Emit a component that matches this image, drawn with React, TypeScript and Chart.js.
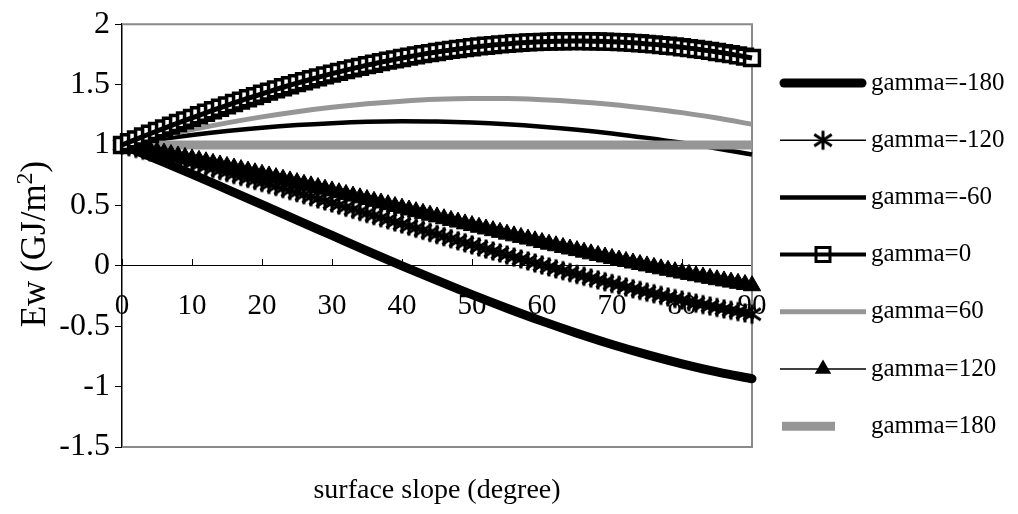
import React, { useEffect, useRef } from 'react';
import { Chart, registerables } from 'chart.js';

Chart.register(...registerables);

const SERIF = '"Liberation Serif", "Times New Roman", Times, serif';
const BLACK = '#000000';
const GREY = '#969696';
const FRAME = '#8a8a8a';

// surface slope (degrees), one-degree steps for the marker series
const slopeDeg = [
  0, 1, 2, 3, 4, 5, 6, 7, 8, 9,
  10, 11, 12, 13, 14, 15, 16, 17, 18, 19,
  20, 21, 22, 23, 24, 25, 26, 27, 28, 29,
  30, 31, 32, 33, 34, 35, 36, 37, 38, 39,
  40, 41, 42, 43, 44, 45, 46, 47, 48, 49,
  50, 51, 52, 53, 54, 55, 56, 57, 58, 59,
  60, 61, 62, 63, 64, 65, 66, 67, 68, 69,
  70, 71, 72, 73, 74, 75, 76, 77, 78, 79,
  80, 81, 82, 83, 84, 85, 86, 87, 88, 89,
  90,
];

// surface slope (degrees), five-degree steps for the plain line series
const slopeDeg5 = [0, 5, 10, 15, 20, 25, 30, 35, 40, 45, 50, 55, 60, 65, 70, 75, 80, 85, 90];

// Ew (GJ/m2) per surface azimuth gamma
const ewGammaM180 = [
  1.0, 0.881, 0.759, 0.633, 0.506, 0.378, 0.251, 0.124, 0.0, -0.121,
  -0.239, -0.351, -0.458, -0.558, -0.651, -0.735, -0.811, -0.878, -0.935,
];

const ewGammaM120 = [
  1.0, 0.986, 0.972, 0.957, 0.943, 0.928, 0.913, 0.898, 0.883, 0.868,
  0.852, 0.836, 0.821, 0.805, 0.789, 0.773, 0.756, 0.74, 0.724, 0.707,
  0.69, 0.674, 0.657, 0.64, 0.623, 0.606, 0.589, 0.572, 0.554, 0.537,
  0.52, 0.503, 0.485, 0.468, 0.45, 0.433, 0.416, 0.398, 0.381, 0.363,
  0.346, 0.328, 0.311, 0.294, 0.276, 0.259, 0.242, 0.224, 0.207, 0.19,
  0.173, 0.156, 0.139, 0.122, 0.106, 0.089, 0.072, 0.056, 0.04, 0.023,
  0.007, -0.009, -0.025, -0.04, -0.056, -0.072, -0.087, -0.102, -0.117, -0.132,
  -0.147, -0.161, -0.176, -0.19, -0.204, -0.218, -0.231, -0.245, -0.258, -0.271,
  -0.284, -0.297, -0.309, -0.321, -0.333, -0.345, -0.357, -0.368, -0.379, -0.39,
  -0.401,
];

const ewGammaM60 = [
  1.0, 1.043, 1.082, 1.115, 1.143, 1.165, 1.181, 1.192, 1.196, 1.194,
  1.186, 1.172, 1.152, 1.127, 1.096, 1.059, 1.018, 0.971, 0.921,
];

const ewGamma0 = [
  1.0, 1.024, 1.047, 1.07, 1.093, 1.116, 1.138, 1.16, 1.182, 1.204,
  1.225, 1.246, 1.267, 1.288, 1.308, 1.328, 1.348, 1.367, 1.387, 1.405,
  1.424, 1.442, 1.46, 1.478, 1.495, 1.512, 1.528, 1.544, 1.56, 1.576,
  1.591, 1.605, 1.62, 1.634, 1.647, 1.661, 1.673, 1.686, 1.698, 1.709,
  1.72, 1.731, 1.742, 1.752, 1.761, 1.77, 1.779, 1.787, 1.795, 1.802,
  1.809, 1.816, 1.822, 1.827, 1.833, 1.837, 1.842, 1.846, 1.849, 1.852,
  1.854, 1.856, 1.858, 1.859, 1.86, 1.86, 1.86, 1.859, 1.858, 1.856,
  1.854, 1.852, 1.849, 1.846, 1.842, 1.837, 1.833, 1.827, 1.822, 1.816,
  1.809, 1.802, 1.795, 1.787, 1.779, 1.77, 1.761, 1.752, 1.742, 1.731,
  1.72,
];

const ewGamma60 = [
  1.0, 1.066, 1.127, 1.183, 1.233, 1.276, 1.312, 1.341, 1.363, 1.378,
  1.384, 1.384, 1.375, 1.359, 1.336, 1.305, 1.268, 1.223, 1.172,
];

const ewGamma120 = [
  1.0, 0.989, 0.978, 0.967, 0.956, 0.945, 0.933, 0.921, 0.909, 0.897,
  0.885, 0.873, 0.861, 0.848, 0.835, 0.823, 0.81, 0.797, 0.784, 0.77,
  0.757, 0.744, 0.73, 0.717, 0.703, 0.689, 0.675, 0.662, 0.648, 0.634,
  0.62, 0.605, 0.591, 0.577, 0.563, 0.549, 0.534, 0.52, 0.506, 0.491,
  0.477, 0.462, 0.448, 0.434, 0.419, 0.405, 0.39, 0.376, 0.362, 0.347,
  0.333, 0.319, 0.305, 0.291, 0.277, 0.262, 0.248, 0.235, 0.221, 0.207,
  0.193, 0.179, 0.166, 0.152, 0.139, 0.126, 0.113, 0.099, 0.086, 0.073,
  0.061, 0.048, 0.036, 0.023, 0.011, -0.001, -0.013, -0.025, -0.037, -0.049,
  -0.06, -0.071, -0.082, -0.093, -0.104, -0.115, -0.125, -0.135, -0.145, -0.155,
  -0.165,
];

const ewGamma180 = [
  1, 1, 1, 1, 1, 1, 1, 1, 1, 1,
  1, 1, 1, 1, 1, 1, 1, 1, 1,
];

const seriesNames = [
  'gamma=-180', 'gamma=-120', 'gamma=-60', 'gamma=0', 'gamma=60', 'gamma=120', 'gamma=180',
];

const xTitle = 'surface slope (degree)';
const yTitleMain = 'Ew (GJ/m';
const yTitleSup = '2';
const yTitleEnd = ')';

function toPoints(xs: number[], ys: number[]) {
  return xs.map((x, i) => ({ x, y: ys[i] }));
}

// asterisk marker: vertical bar plus a wide X
function makeAsterisk(size: number, lineWidth: number): HTMLCanvasElement {
  const c = document.createElement('canvas');
  c.width = size;
  c.height = size;
  const g = c.getContext('2d') as CanvasRenderingContext2D;
  const m = size / 2;
  const r = m - 1.5;
  g.strokeStyle = BLACK;
  g.lineWidth = lineWidth;
  g.beginPath();
  g.moveTo(m, m - r);
  g.lineTo(m, m + r);
  const dx = r * 0.92;
  const dy = r * 0.6;
  g.moveTo(m - dx, m - dy);
  g.lineTo(m + dx, m + dy);
  g.moveTo(m - dx, m + dy);
  g.lineTo(m + dx, m - dy);
  g.stroke();
  return c;
}

export default function App() {
  const canvasRef = useRef<HTMLCanvasElement | null>(null);

  useEffect(() => {
    document.body.style.margin = '0';
    const canvas = canvasRef.current;
    if (!canvas) return;

    Chart.defaults.font.family = SERIF;
    Chart.defaults.color = BLACK;

    const star = makeAsterisk(22, 3);

    // grey frame on the top, right and bottom of the plot area
    const plotFrame = {
      id: 'plotFrame',
      beforeDatasetsDraw(chart: any) {
        const { ctx, chartArea } = chart;
        const { left, top, right, bottom } = chartArea;
        ctx.save();
        ctx.strokeStyle = FRAME;
        ctx.lineWidth = 2;
        ctx.beginPath();
        ctx.moveTo(left, top);
        ctx.lineTo(right, top);
        ctx.lineTo(right, bottom);
        ctx.lineTo(left, bottom);
        ctx.stroke();
        ctx.restore();
      },
    };

    // vertical axis title with a raised exponent
    const yAxisTitle = {
      id: 'yAxisTitle',
      afterDraw(chart: any) {
        const ctx: CanvasRenderingContext2D = chart.ctx;
        const mainFont = `35px ${SERIF}`;
        const supFont = `24px ${SERIF}`;
        ctx.save();
        ctx.font = mainFont;
        const w1 = ctx.measureText(yTitleMain).width;
        const w3 = ctx.measureText(yTitleEnd).width;
        ctx.font = supFont;
        const w2 = ctx.measureText(yTitleSup).width;
        const total = w1 + w2 + w3;
        ctx.translate(33, 244);
        ctx.rotate(-Math.PI / 2);
        ctx.fillStyle = BLACK;
        ctx.textAlign = 'left';
        ctx.textBaseline = 'alphabetic';
        const base = 12;
        let x = -total / 2;
        ctx.font = mainFont;
        ctx.fillText(yTitleMain, x, base);
        x += w1;
        ctx.font = supFont;
        ctx.fillText(yTitleSup, x, base - 13);
        x += w2;
        ctx.font = mainFont;
        ctx.fillText(yTitleEnd, x, base);
        ctx.restore();
      },
    };

    // connecting line is stroked over the markers
    const lineOverMarkers = {
      id: 'lineOverMarkers',
      afterDatasetDraw(chart: any, args: any) {
        const ds = chart.data.datasets[args.index];
        if (ds.pointRadius > 0 && args.meta.dataset) {
          args.meta.dataset.draw(chart.ctx, chart.chartArea);
        }
      },
    };

    // legend on the right: sample line, marker, label
    const sideLegend = {
      id: 'sideLegend',
      afterDraw(chart: any) {
        const ctx: CanvasRenderingContext2D = chart.ctx;
        const x0 = 780;
        const x1 = 866;
        const cx = 823;
        const textX = 871;
        ctx.save();
        seriesNames.forEach((name, i) => {
          const y = 83 + i * 57.2;
          ctx.lineCap = 'butt';
          ctx.strokeStyle = BLACK;
          if (i === 0) {
            ctx.lineWidth = 9;
            ctx.lineCap = 'round';
            ctx.beginPath(); ctx.moveTo(x0 + 4, y); ctx.lineTo(x1 - 4, y); ctx.stroke();
          } else if (i === 1) {
            ctx.lineWidth = 1.5;
            ctx.beginPath(); ctx.moveTo(x0, y); ctx.lineTo(x1, y); ctx.stroke();
            ctx.drawImage(star, cx - 11, y - 11);
          } else if (i === 2) {
            ctx.lineWidth = 4.5;
            ctx.beginPath(); ctx.moveTo(x0, y); ctx.lineTo(x1, y); ctx.stroke();
          } else if (i === 3) {
            ctx.fillStyle = '#ffffff';
            ctx.lineWidth = 3;
            ctx.beginPath(); ctx.rect(cx - 7, y - 7, 14, 14); ctx.fill(); ctx.stroke();
            ctx.lineWidth = 4;
            ctx.beginPath(); ctx.moveTo(x0, y); ctx.lineTo(x1, y); ctx.stroke();
          } else if (i === 4) {
            ctx.strokeStyle = GREY;
            ctx.lineWidth = 5;
            ctx.beginPath(); ctx.moveTo(x0, y); ctx.lineTo(x1, y); ctx.stroke();
          } else if (i === 5) {
            ctx.lineWidth = 1.5;
            ctx.beginPath(); ctx.moveTo(x0, y); ctx.lineTo(x1, y); ctx.stroke();
            const r = 9.5;
            ctx.fillStyle = BLACK;
            ctx.beginPath();
            ctx.moveTo(cx, y - r);
            ctx.lineTo(cx + 0.866 * r, y + 0.5 * r);
            ctx.lineTo(cx - 0.866 * r, y + 0.5 * r);
            ctx.closePath();
            ctx.fill();
          } else {
            ctx.strokeStyle = GREY;
            ctx.lineWidth = 9;
            ctx.beginPath(); ctx.moveTo(782, y); ctx.lineTo(835, y); ctx.stroke();
          }
          ctx.fillStyle = BLACK;
          ctx.font = `25px ${SERIF}`;
          ctx.textAlign = 'left';
          ctx.textBaseline = 'middle';
          ctx.fillText(name, textX, y);
        });
        ctx.restore();
      },
    };

    const chart = new Chart(canvas, {
      type: 'line',
      data: {
        datasets: [
          {
            label: seriesNames[0],
            data: toPoints(slopeDeg5, ewGammaM180),
            borderColor: BLACK,
            borderWidth: 9,
            borderCapStyle: 'round',
            borderJoinStyle: 'round',
            pointRadius: 0,
            cubicInterpolationMode: 'monotone',
            clip: false,
            order: 7,
          },
          {
            label: seriesNames[1],
            data: toPoints(slopeDeg, ewGammaM120),
            borderColor: BLACK,
            borderWidth: 1.5,
            pointStyle: star,
            pointRadius: 10,
            clip: false,
            order: 3,
          },
          {
            label: seriesNames[2],
            data: toPoints(slopeDeg5, ewGammaM60),
            borderColor: BLACK,
            borderWidth: 4.5,
            pointRadius: 0,
            cubicInterpolationMode: 'monotone',
            clip: false,
            order: 6,
          },
          {
            label: seriesNames[3],
            data: toPoints(slopeDeg, ewGamma0),
            borderColor: BLACK,
            borderWidth: 5,
            pointStyle: 'rect',
            pointRadius: 10.5,
            pointBackgroundColor: '#ffffff',
            pointBorderColor: BLACK,
            pointBorderWidth: 3.5,
            clip: false,
            order: 1,
          },
          {
            label: seriesNames[4],
            data: toPoints(slopeDeg5, ewGamma60),
            borderColor: GREY,
            borderWidth: 5,
            pointRadius: 0,
            cubicInterpolationMode: 'monotone',
            clip: false,
            order: 5,
          },
          {
            label: seriesNames[5],
            data: toPoints(slopeDeg, ewGamma120),
            borderColor: BLACK,
            borderWidth: 1.5,
            pointStyle: 'triangle',
            pointRadius: 10,
            pointBackgroundColor: BLACK,
            pointBorderColor: BLACK,
            pointBorderWidth: 1,
            clip: false,
            order: 2,
          },
          {
            label: seriesNames[6],
            data: toPoints(slopeDeg5, ewGamma180),
            borderColor: GREY,
            borderWidth: 9,
            pointRadius: 0,
            clip: false,
            order: 4,
          },
        ],
      },
      options: {
        responsive: false,
        animation: false,
        events: [],
        layout: { padding: { top: 17, right: 266, left: 0, bottom: 0 } },
        plugins: {
          legend: { display: false },
          tooltip: { enabled: false },
          title: { display: false },
        },
        scales: {
          x: {
            type: 'linear',
            position: 'bottom',
            min: 0,
            max: 90,
            ticks: { display: false },
            grid: { display: false },
            border: { display: false },
            title: {
              display: true,
              text: xTitle,
              color: BLACK,
              font: { size: 28, family: SERIF },
              padding: { top: 0, bottom: 7 },
            },
            afterFit: (s: any) => { s.height = 67; },
          },
          y: {
            type: 'linear',
            position: 'left',
            min: -1.5,
            max: 2,
            ticks: {
              stepSize: 0.5,
              color: BLACK,
              font: { size: 32, family: SERIF },
              padding: 5,
              callback: (v: any) => String(v),
            },
            grid: { drawOnChartArea: false, drawTicks: true, tickLength: 7, color: BLACK, lineWidth: 1 },
            border: { display: true, color: BLACK, width: 1.5 },
            title: { display: false },
            afterFit: (s: any) => { s.width = 122; },
          },
          x2: {
            type: 'linear',
            axis: 'x',
            position: { y: 0 },
            min: 0,
            max: 90,
            ticks: {
              stepSize: 10,
              color: BLACK,
              font: { size: 29, family: SERIF },
              padding: 30,
              maxRotation: 0,
              autoSkip: false,
              callback: (v: any) => String(v),
            },
            grid: { drawOnChartArea: false, drawTicks: true, tickLength: -7, color: BLACK, lineWidth: 1 },
            border: { display: true, color: BLACK, width: 1 },
          },
        },
      } as any,
      plugins: [plotFrame, lineOverMarkers, sideLegend, yAxisTitle],
    });

    return () => chart.destroy();
  }, []);

  return (
    <div style={{ width: 1018, height: 514 }}>
      <canvas ref={canvasRef} width={1018} height={514} style={{ display: 'block' }} />
    </div>
  );
}
